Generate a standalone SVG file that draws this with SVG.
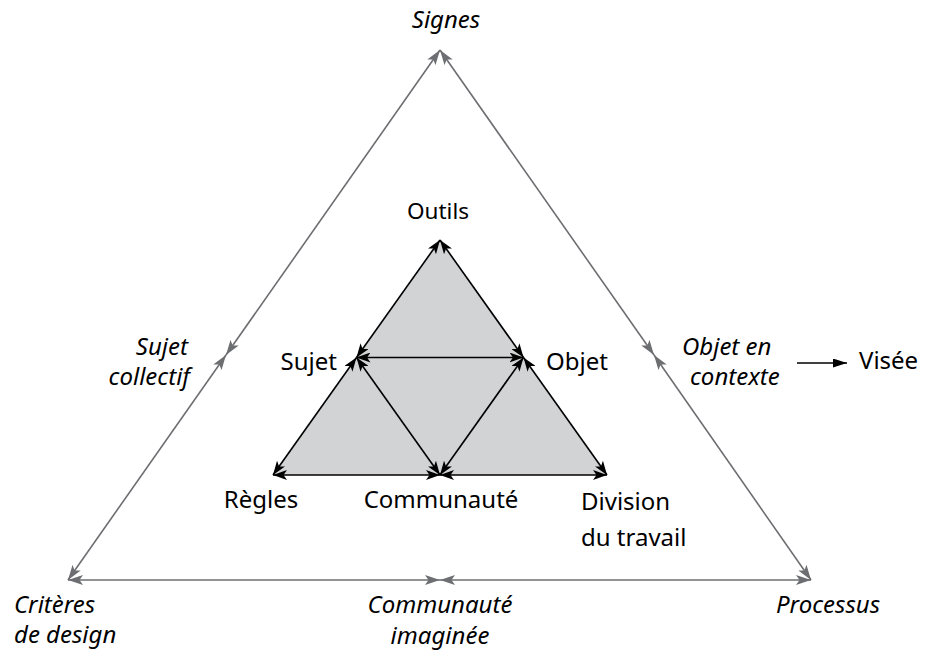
<svg xmlns="http://www.w3.org/2000/svg" width="925" height="652" viewBox="0 0 925 652">
<style>
.t{font-family:"Noto Sans","Open Sans","Liberation Sans",sans-serif;font-size:24px;fill:#000}
.i{font-style:italic;font-size:24px}
.o{stroke:#6d6e71;stroke-width:1.6;fill:none;marker-start:url(#ag);marker-end:url(#ag)}
.n{stroke:#000;stroke-width:1.6;fill:none;marker-start:url(#ab);marker-end:url(#ab)}
</style>
<defs>
<marker id="ag" viewBox="0 0 15 10" refX="15" refY="5" markerWidth="15" markerHeight="10" markerUnits="userSpaceOnUse" orient="auto-start-reverse"><path d="M0,0 L15,5 L0,10 L3.5,5 Z" fill="#6d6e71"/></marker>
<marker id="ab" viewBox="0 0 14 10" refX="14" refY="5" markerWidth="14" markerHeight="10" markerUnits="userSpaceOnUse" orient="auto-start-reverse"><path d="M0,0 L14,5 L0,10 L3.5,5 Z" fill="#000"/></marker>
<marker id="ae" viewBox="0 0 14 9" refX="14" refY="4.5" markerWidth="14" markerHeight="9" markerUnits="userSpaceOnUse" orient="auto"><path d="M0,0 L14,4.5 L0,9 Z" fill="#000"/></marker>
</defs>
<polygon id="inner-fill" points="440,240 273,475 607,475" fill="#d1d3d4"/>
<g id="connectors">
<line class="o" x1="440" y1="50" x2="226" y2="355"/>
<line class="o" x1="226" y1="355" x2="68" y2="580"/>
<line class="o" x1="440" y1="50" x2="654" y2="355"/>
<line class="o" x1="654" y1="355" x2="811" y2="580"/>
<line class="o" x1="68" y1="580" x2="440" y2="580"/>
<line class="o" x1="440" y1="580" x2="811" y2="580"/>
<line class="n" x1="440" y1="240" x2="356.5" y2="357.5"/>
<line class="n" x1="440" y1="240" x2="523.5" y2="357.5"/>
<line class="n" x1="356.5" y1="357.5" x2="523.5" y2="357.5"/>
<line class="n" x1="356.5" y1="357.5" x2="273" y2="475"/>
<line class="n" x1="356.5" y1="357.5" x2="440" y2="475"/>
<line class="n" x1="523.5" y1="357.5" x2="440" y2="475"/>
<line class="n" x1="523.5" y1="357.5" x2="607" y2="475"/>
<line class="n" x1="273" y1="475" x2="440" y2="475"/>
<line class="n" x1="440" y1="475" x2="607" y2="475"/>
<line x1="797" y1="363" x2="847" y2="363" stroke="#000" stroke-width="1.6" marker-end="url(#ae)"/>
</g>
<g id="signes"><text class="t i" x="446" y="28" text-anchor="middle">Signes</text></g>
<g id="sujet-collectif"><text class="t i" x="188" y="355" text-anchor="end">Sujet</text><text class="t i" x="190" y="385" text-anchor="end">collectif</text></g>
<g id="objet-en-contexte"><text class="t i" x="682" y="355">Objet en</text><text class="t i" x="690" y="385">contexte</text></g>
<g id="visee"><text class="t" x="859" y="369">Visée</text></g>
<g id="criteres-de-design"><text class="t i" x="14" y="613">Critères</text><text class="t i" x="14" y="643">de design</text></g>
<g id="communaute-imaginee"><text class="t i" x="440" y="613" text-anchor="middle">Communauté</text><text class="t i" x="440" y="644" text-anchor="middle">imaginée</text></g>
<g id="processus"><text class="t i" x="828" y="613" text-anchor="middle">Processus</text></g>
<g id="outils"><text class="t" x="438" y="219" text-anchor="middle" style="font-size:22.5px">Outils</text></g>
<g id="sujet"><text class="t" x="337" y="370" text-anchor="end">Sujet</text></g>
<g id="objet"><text class="t" x="546" y="370">Objet</text></g>
<g id="regles"><text class="t" x="261" y="508" text-anchor="middle">Règles</text></g>
<g id="communaute"><text class="t" x="441" y="508" text-anchor="middle">Communauté</text></g>
<g id="division-du-travail"><text class="t" x="581" y="510">Division</text><text class="t" x="581" y="546">du travail</text></g>
</svg>
